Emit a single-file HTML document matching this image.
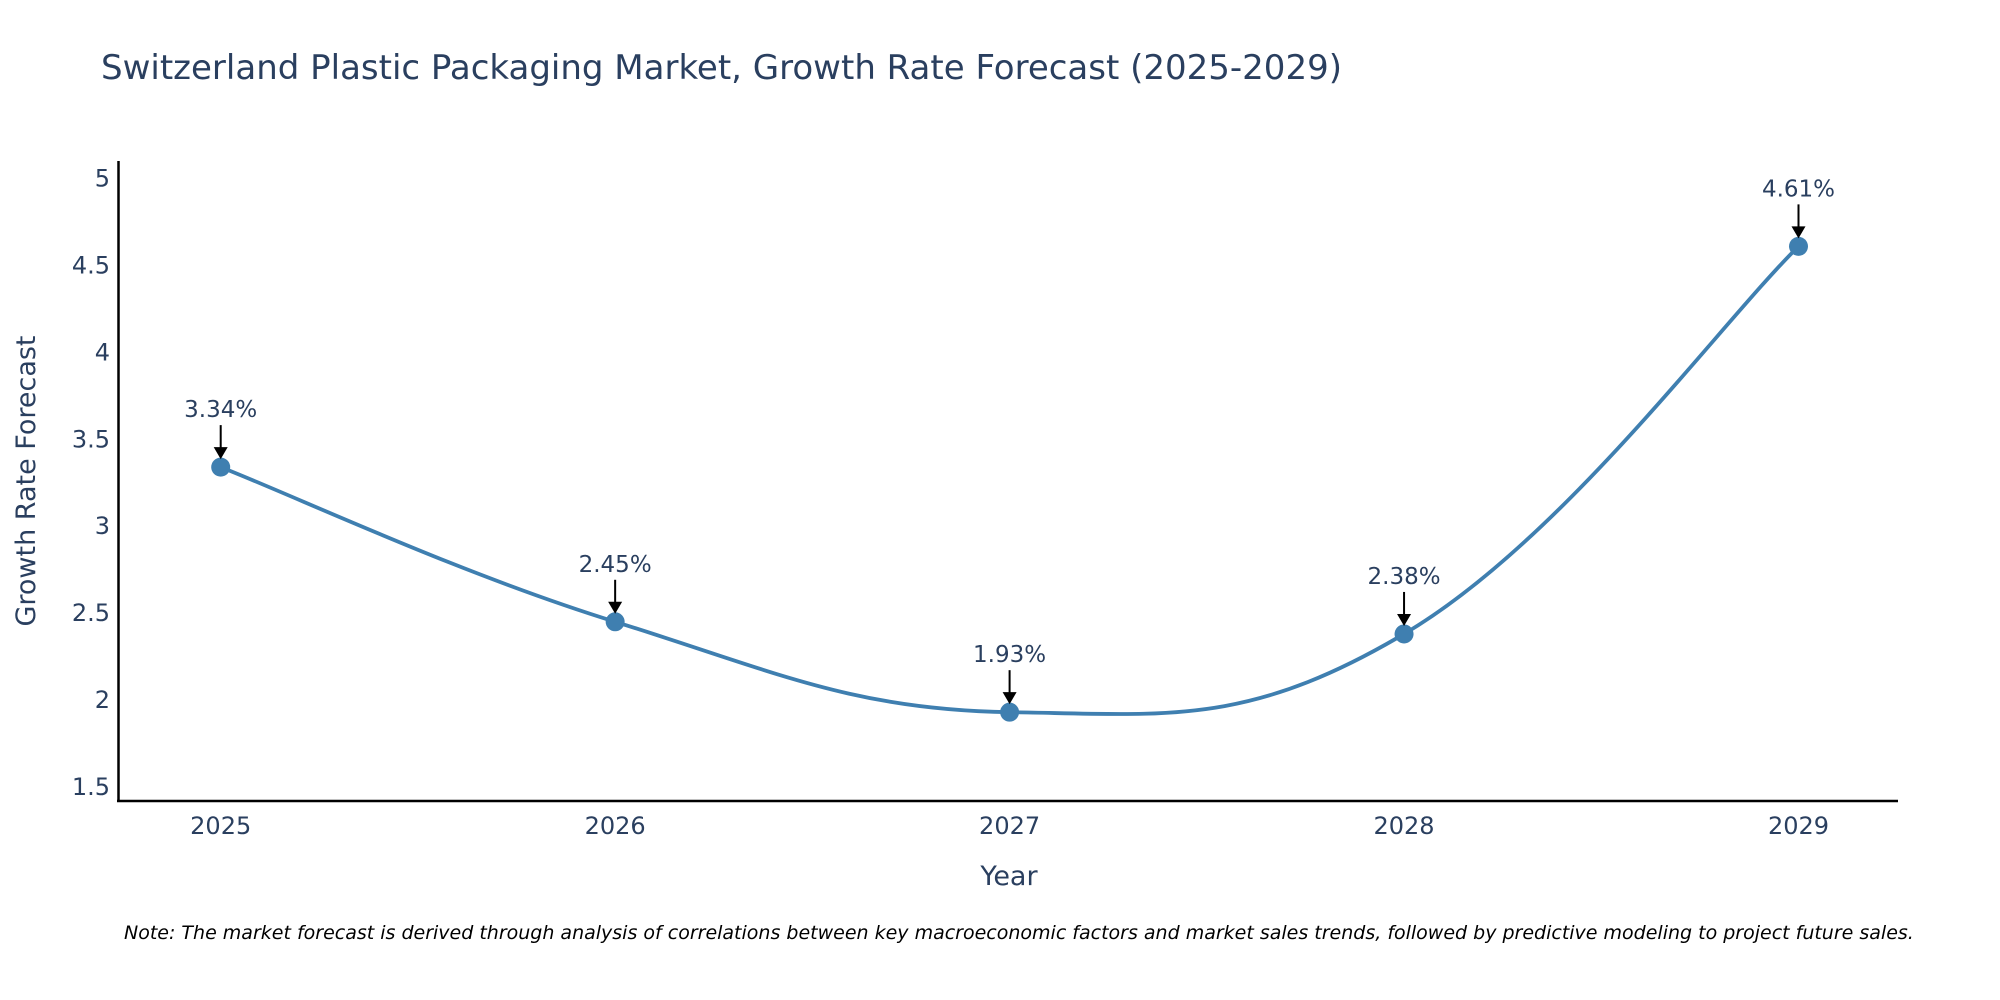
<!DOCTYPE html>
<html><head><meta charset="utf-8">
<style>
html,body{margin:0;padding:0;background:#fff;}
svg{display:block;font-family:"DejaVu Sans","Liberation Sans",sans-serif;}
</style></head>
<body>
<svg id="chart" width="2000" height="1000" viewBox="0 0 2000 1000">
  <text x="101" y="79" font-size="34" fill="#2a3f5f">Switzerland Plastic Packaging Market, Growth Rate Forecast (2025-2029)</text>
  <g id="yticks"></g>
  <g id="xticks"></g>
  <line x1="118.5" y1="161" x2="118.5" y2="802" stroke="#000" stroke-width="2.5"/>
  <line x1="117" y1="801" x2="1898" y2="801" stroke="#000" stroke-width="2.5"/>
  <g id="series"></g>
  <g id="annots"></g>
  <text x="1009" y="885" font-size="27" fill="#2a3f5f" text-anchor="middle">Year</text>
  <text transform="translate(35,481) rotate(-90)" font-size="27" fill="#2a3f5f" text-anchor="middle">Growth Rate Forecast</text>
  <text x="124" y="939" font-size="19" font-style="italic" fill="#000">Note: The market forecast is derived through analysis of correlations between key macroeconomic factors and market sales trends, followed by predictive modeling to project future sales.</text>
</svg>
<script>
const years = [2025, 2026, 2027, 2028, 2029];
const growth = [3.34, 2.45, 1.93, 2.38, 4.61];
const yTickValues = [1.5, 2, 2.5, 3, 3.5, 4, 4.5, 5];
const yTickLabels = ["1.5", "2", "2.5", "3", "3.5", "4", "4.5", "5"];

const NS = "http://www.w3.org/2000/svg";
function xScale(v){ return 220.7 + (v - 2025) * (1798.5 - 220.7) / 4; }
function yScale(v){ return 178.6 + (5 - v) * 173.8; }
function mk(tag, attrs, parent){ const e = document.createElementNS(NS, tag); for (const k in attrs) e.setAttribute(k, attrs[k]); parent.appendChild(e); return e; }

const yt = document.getElementById("yticks");
yTickValues.forEach((v, i) => {
  const t = mk("text", {x: 110, y: yScale(v) + 8, "font-size": 24, fill: "#2a3f5f", "text-anchor": "end"}, yt);
  t.textContent = yTickLabels[i];
  
  
});
const xt = document.getElementById("xticks");
years.forEach(y => {
  const t = mk("text", {x: xScale(y), y: 834, "font-size": 24, fill: "#2a3f5f", "text-anchor": "middle"}, xt);
  t.textContent = String(y);
  
  
});

const pts = years.map((y, i) => [xScale(y), yScale(growth[i])]);
let d = "M" + pts[0][0] + "," + pts[0][1];
const s = 0.2;
for (let i = 0; i < pts.length - 1; i++) {
  const p0 = pts[Math.max(0, i - 1)], p1 = pts[i], p2 = pts[i + 1], p3 = pts[Math.min(pts.length - 1, i + 2)];
  const c1 = [p1[0] + (p2[0] - p0[0]) * s, p1[1] + (p2[1] - p0[1]) * s];
  const c2 = [p2[0] - (p3[0] - p1[0]) * s, p2[1] - (p3[1] - p1[1]) * s];
  d += " C" + c1[0] + "," + c1[1] + " " + c2[0] + "," + c2[1] + " " + p2[0] + "," + p2[1];
}
const ser = document.getElementById("series");
const line = mk("path", {d: d, fill: "none", stroke: "#3f7fb0", "stroke-width": 3.8}, ser);


pts.forEach(p => {
  const c = mk("circle", {cx: p[0], cy: p[1], r: 9.5, fill: "#3f7fb0"}, ser);
  
  
});

const an = document.getElementById("annots");
pts.forEach((p, i) => {
  const l = mk("line", {x1: p[0], y1: p[1] - 42, x2: p[0], y2: p[1] - 18, stroke: "#000", "stroke-width": 2}, an);
  
  
  const h = mk("path", {d: `M${p[0]-7},${p[1]-20} L${p[0]+7},${p[1]-20} L${p[0]},${p[1]-8} Z`, fill: "#000"}, an);
  
  
  const t = mk("text", {x: p[0], y: p[1] - 50, "font-size": 23, fill: "#2a3f5f", "text-anchor": "middle"}, an);
  t.textContent = growth[i].toFixed(2) + "%";
  
  
});
</script>
</body></html>
